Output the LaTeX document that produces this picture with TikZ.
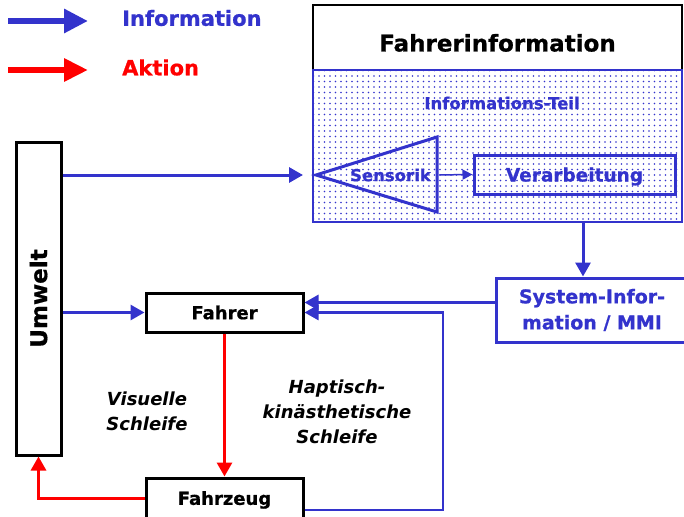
\documentclass[tikz,border=0pt]{standalone}
\usepackage{fontspec}
\setmainfont{DejaVu Sans}[BoldFeatures={FakeBold=0.8}]
\usetikzlibrary{arrows.meta, positioning, calc, patterns.meta}
\definecolor{infoblue}{RGB}{51,51,204}
\definecolor{actred}{RGB}{255,0,0}

\begin{document}
\begin{tikzpicture}[x=1pt, y=-1pt, >={Triangle[length=14pt, width=15pt]},
    blackbox/.style={draw, line width=3pt, inner sep=0pt},
    bluebox/.style={draw=infoblue, line width=3pt, text=infoblue, inner sep=0pt},
    info/.style={color=infoblue, line width=3pt},
    hapline/.style={color=infoblue, line width=2.5pt},
    action/.style={color=actred, line width=3pt},
    loop text/.style={font=\fontsize{18}{25}\bfseries\itshape, align=center}]
    \useasboundingbox (0,0) rectangle (684,516);

    % legend
    \coordinate (infostart) at (8,21);
    \coordinate (infoend) at (88,21);
    \coordinate (actstart) at (8,70);
    \coordinate (actend) at (88,70);
    \draw[infoblue, line width=6pt, -{Triangle[length=24pt, width=23pt]}] (infostart) -- (infoend);
    \draw[actred, line width=6pt, -{Triangle[length=24pt, width=22pt]}] (actstart) -- (actend);
    \node[font=\fontsize{21}{25}\bfseries, text=infoblue, anchor=west, inner sep=0pt] (infolabel) at (122,18) {Information};
    \node[font=\fontsize{21}{25}\bfseries, text=actred, anchor=west, inner sep=0pt] (actlabel) at (122,67.5) {Aktion};

    % Fahrerinformation
    \node[blackbox, line width=2pt, minimum width=369pt, minimum height=65pt, font=\fontsize{23}{28}\bfseries, text height=28pt, text depth=0pt] (fahrerinfo) at (497.5,37.5) {Fahrerinformation};
    \node[draw=infoblue, line width=2pt, pattern={Dots[distance=5.5pt, radius=0.8pt]}, pattern color=infoblue, minimum width=369pt, minimum height=152pt] (infopart) at (497.5,146) {};
    \node[font=\fontsize{16.5}{20}\bfseries, text=infoblue] (infotitle) at (502,103) {Informations-Teil};
    \coordinate (sensapex) at (316,175);
    \draw[infoblue, line width=3pt] (sensapex) -- (437,137) -- (437,212) -- cycle;
    \node[font=\fontsize{16.5}{20}\bfseries, text=infoblue] (sensorik) at (390.5,175) {Sensorik};
    \node[bluebox, minimum width=201pt, minimum height=39pt, font=\fontsize{18.5}{22}\bfseries, text depth=0pt] (verarb) at (574.5,174.5) {Verarbeitung};
    \draw[infoblue, line width=1.5pt, -{Triangle[length=10pt, width=10pt]}, shorten <=5pt] (sensorik.east) -- (verarb.west);

    \node[bluebox, minimum width=192pt, minimum height=64pt, align=center, font=\fontsize{19}{26}\bfseries] (sysinfo) at (592,310) {System-Infor-\\mation / MMI};
    \coordinate (drop) at (583,222);
    \draw[info, ->] (drop) -- (drop |- sysinfo.north);

    % Regelkreis
    \node[blackbox, minimum width=45pt, minimum height=313pt, font=\fontsize{23}{28}\bfseries] (umwelt) at (38.5,298.5) {\rotatebox{90}{Umwelt}};
    \node[blackbox, minimum width=157pt, minimum height=39pt, font=\fontsize{18}{22}\bfseries] (fahrer) at (224.5,312.5) {Fahrer};
    \node[blackbox, minimum width=157pt, minimum height=40pt, font=\fontsize{18}{22}\bfseries, text depth=0pt] (fahrzeug) at (224.5,498) {Fahrzeug};

    \draw[info, ->, shorten >=9pt] (umwelt.east |- sensapex) -- (infopart.west |- sensapex);
    \draw[info, ->] (umwelt.east |- fahrer) -- (fahrer.west);
    \coordinate (mmiin) at ($(fahrer.east)+(0,-10)$);
    \draw[info, ->] (sysinfo.west |- mmiin) -- (mmiin);
    \coordinate (hapout) at ($(fahrzeug.east)+(0,12)$);
    \draw[hapline, ->] (hapout) -- ++(138.5,0) |- (fahrer.east);
    \draw[action, ->] (fahrer.south) -- (fahrzeug.north);
    \draw[action, ->] (fahrzeug.west) -| (umwelt.south);

    \node[loop text] (visual) at (147,411) {Visuelle\\Schleife};
    \node[loop text] (haptic) at (337,412) {Haptisch-\\kinästhetische\\Schleife};
\end{tikzpicture}
\end{document}
